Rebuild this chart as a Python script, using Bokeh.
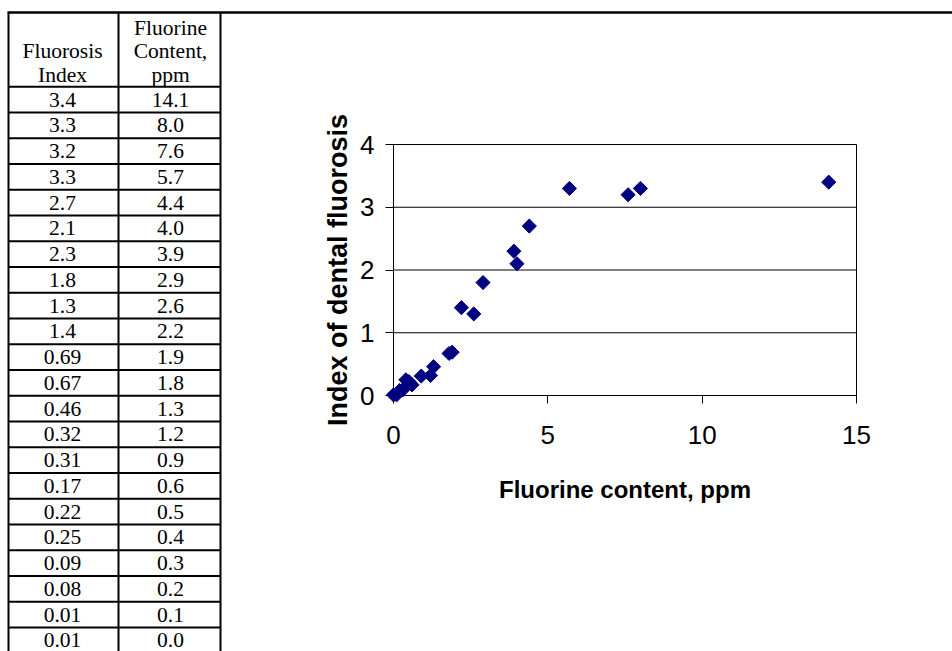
import numpy as np
from bokeh.plotting import figure
from bokeh.models import Range1d, FixedTicker, LinearAxis
from bokeh.core.properties import value
from bokeh.embed import file_html
from bokeh.resources import INLINE

# ---- data ----
fluorosis_index = [3.4, 3.3, 3.2, 3.3, 2.7, 2.1, 2.3, 1.8, 1.3, 1.4, 0.69, 0.67,
                   0.46, 0.32, 0.31, 0.17, 0.22, 0.25, 0.09, 0.08, 0.01, 0.01]
fluorine_ppm = [14.1, 8.0, 7.6, 5.7, 4.4, 4.0, 3.9, 2.9, 2.6, 2.2, 1.9, 1.8,
                1.3, 1.2, 0.9, 0.6, 0.5, 0.4, 0.3, 0.2, 0.1, 0.0]
index_labels = ["3.4", "3.3", "3.2", "3.3", "2.7", "2.1", "2.3", "1.8", "1.3", "1.4",
                "0.69", "0.67", "0.46", "0.32", "0.31", "0.17", "0.22", "0.25",
                "0.09", "0.08", "0.01", "0.01"]
fluorine_labels = ["14.1", "8.0", "7.6", "5.7", "4.4", "4.0", "3.9", "2.9", "2.6", "2.2",
                   "1.9", "1.8", "1.3", "1.2", "0.9", "0.6", "0.5", "0.4", "0.3", "0.2",
                   "0.1", "0.0"]
header_col1 = ["Fluorosis", "Index"]
header_col2 = ["Fluorine", "Content,", "ppm"]
x_ticks = [0, 5, 10, 15]
y_ticks = [0, 1, 2, 3, 4]
grid_ticks = [1, 2, 3, 4]

# ---- page geometry (canvas pixels) ----
W, H = 952, 651
P_LEFT, P_RIGHT, P_TOP, P_BOTTOM = 393, 856, 144, 395   # chart plot area

# chart scales: data ranges extended so the plot area lands at the pixels above
xmin, xmax = x_ticks[0], x_ticks[-1]
ymin, ymax = y_ticks[0], y_ticks[-1]
kx = (P_RIGHT - P_LEFT) / (xmax - xmin)
ky = (P_BOTTOM - P_TOP) / (ymax - ymin)
cx_range = Range1d(xmin - P_LEFT / kx, xmax + (W - P_RIGHT) / kx)
cy_range = Range1d(ymin - (H - P_BOTTOM) / ky, ymax + P_TOP / ky)

p = figure(width=W, height=H, x_range=Range1d(0, W), y_range=Range1d(H, 0),
           toolbar_location=None, output_backend="svg", min_border=0,
           x_axis_location=None, y_axis_location=None, title=None)
p.grid.visible = False
p.outline_line_color = None
p.background_fill_color = "white"
p.border_fill_color = "white"
p.extra_x_ranges = {"cx": cx_range}
p.extra_y_ranges = {"cy": cy_range}

# ---- page table on the left (canvas-pixel coordinates) ----
n = len(index_labels)
top_y = 12
col_x = [8, 118, 220]
header_bottom = 86.3
row_h = 25.75
row_lines = [header_bottom + row_h * k for k in range(n)]

# top rule across the page
p.segment(x0=[col_x[0] - 1], y0=[top_y], x1=[W], y1=[top_y], line_color="black", line_width=2.5)
# vertical rules
p.segment(x0=col_x, y0=[top_y] * 3, x1=col_x, y1=[H + 2] * 3, line_color="black", line_width=2)
# horizontal rules
p.segment(x0=[col_x[0]] * n, y0=row_lines, x1=[col_x[2]] * n, y1=row_lines,
          line_color="black", line_width=2)

serif = value("Liberation Serif")
FS = "21.5px"
c1, c2 = 62.0, 170.0
p.text(x=[c1, c1], y=[50, 74], text=header_col1, text_font=serif, text_font_size=FS,
       text_align="center", text_baseline="middle", text_color="black")
p.text(x=[c2, c2, c2], y=[27, 50, 74], text=header_col2, text_font=serif,
       text_font_size=FS, text_align="center", text_baseline="middle", text_color="black")
row_mid = [header_bottom + row_h * k + 12.8 for k in range(n)]
p.text(x=[c1] * n, y=row_mid, text=index_labels, text_font=serif, text_font_size=FS,
       text_align="center", text_baseline="middle", text_color="black")
p.text(x=[c2] * n, y=row_mid, text=fluorine_labels, text_font=serif, text_font_size=FS,
       text_align="center", text_baseline="middle", text_color="black")

# ---- scatter chart (right) ----
# plot-area border and horizontal gridlines
p.segment(x0=[xmin] * len(grid_ticks), x1=[xmax] * len(grid_ticks), y0=grid_ticks, y1=grid_ticks,
          x_range_name="cx", y_range_name="cy", line_color="black", line_width=1)
p.segment(x0=[xmax], x1=[xmax], y0=[ymin], y1=[ymax],
          x_range_name="cx", y_range_name="cy", line_color="black", line_width=1)

p.scatter(x=fluorine_ppm, y=fluorosis_index, x_range_name="cx", y_range_name="cy",
          marker="square", angle=np.pi / 4, size=10, fill_color="#000080", line_color="#000080")

xaxis = LinearAxis(x_range_name="cx", y_range_name="cy", fixed_location=ymin, bounds=(xmin, xmax),
                   ticker=FixedTicker(ticks=x_ticks), axis_label="Fluorine content, ppm")
yaxis = LinearAxis(x_range_name="cx", y_range_name="cy", fixed_location=xmin, bounds=(ymin, ymax),
                   ticker=FixedTicker(ticks=y_ticks), axis_label="Index of dental fluorosis")
for ax in (xaxis, yaxis):
    ax.level = "underlay"
    ax.axis_line_color = "black"
    ax.major_tick_line_color = "black"
    ax.minor_tick_line_color = None
    ax.major_tick_in = 0
    ax.major_tick_out = 8
    ax.major_label_text_font = "Liberation Sans"
    ax.major_label_text_font_size = "26px"
    ax.major_label_text_color = "black"
    ax.axis_label_text_font = "Liberation Sans"
    ax.axis_label_text_font_style = "bold"
    ax.axis_label_text_color = "black"
xaxis.axis_label_text_font_size = "24px"
yaxis.axis_label_text_font_size = "27px"
xaxis.major_label_standoff = 22
xaxis.axis_label_standoff = 29
yaxis.major_label_standoff = 11
yaxis.axis_label_standoff = 4
p.add_layout(xaxis, "below")
p.add_layout(yaxis, "left")

open("out.html", "w").write(file_html(p, INLINE))
